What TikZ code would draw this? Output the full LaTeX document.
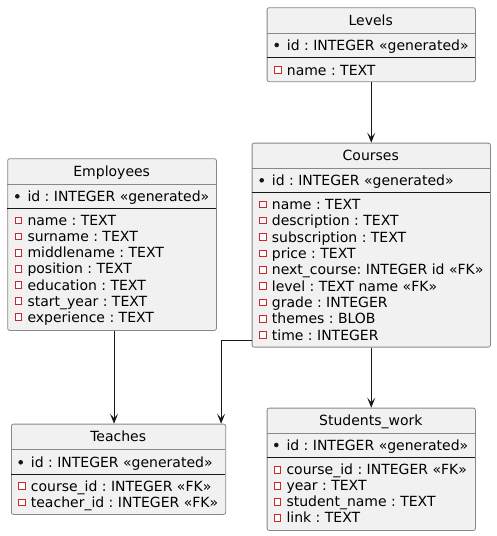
\documentclass[tikz,border=0pt]{standalone}
\usepackage{fontspec}
\setmainfont{DejaVu Sans}
\usetikzlibrary{arrows.meta}
\frenchspacing
\definecolor{entityfill}{HTML}{F1F1F1}
\definecolor{entityline}{HTML}{888888}
\definecolor{fkred}{HTML}{C82930}
\definecolor{linkline}{HTML}{181818}
\def\keyrow[#1](#2,#3)#4{\fill[linkline] (#2-10,#3) circle (2.3); \node[field] (#1) at (#2,#3) {#4};}
\def\attrrow[#1](#2,#3)#4{\draw[attrmark] (#2-12,#3-3.2) rectangle ++(6.4,6.4); \node[field] (#1) at (#2,#3) {#4};}

\begin{document}
\begin{tikzpicture}[x=1pt, y=-1pt,
	entity/.style={draw=entityline, fill=entityfill, line width=0.8pt, rounded corners=2pt, inner sep=0pt, anchor=north west},
	field/.style={anchor=west, inner sep=0pt, text height=10.2pt, text depth=0pt, font=\fontsize{14}{16}\selectfont},
	title/.style={inner sep=0pt, text height=10.2pt, text depth=0pt, font=\fontsize{14}{16}\selectfont},
	titlesep/.style={draw=entityline, line width=0.8pt},
	keysep/.style={draw=linkline, line width=0.9pt},
	attrmark/.style={draw=fkred, fill=white, line width=0.8pt},
	link/.style={draw=linkline, line width=0.9pt, -{Stealth[length=10pt, width=8pt, inset=4.5pt]}}]
	%%%%% START %%%%%
	
	\useasboundingbox (0,0) rectangle (496,536);
	
	% Levels
	\node[entity, minimum width=208.3pt, minimum height=74pt] (levels) at (266.7,7.3) {};
	\node[title] (lv-title) at (370.8,20) {Levels};
	\draw[titlesep] (266.7,33) -- (475,33);
	\keyrow[lv-id](286.7,45){id : INTEGER «generated»}
	\draw[keysep] (266.7,57) -- (475,57);
	\attrrow[lv-name](286.7,70){name : TEXT}
	
	% Courses
	\node[entity, minimum width=238.3pt, minimum height=204pt] (courses) at (251.7,142.7) {};
	\node[title] (cs-title) at (370.8,155.5) {Courses};
	\draw[titlesep] (251.7,168.3) -- (490,168.3);
	\keyrow[cs-id](271.7,180.3){id : INTEGER «generated»}
	\draw[keysep] (251.7,192.3) -- (490,192.3);
	\attrrow[cs-name](271.7,204.3){name : TEXT}
	\attrrow[cs-description](271.7,220.6){description : TEXT}
	\attrrow[cs-subscription](271.7,237){subscription : TEXT}
	\attrrow[cs-price](271.7,253.3){price : TEXT}
	\attrrow[cs-next](271.7,269.7){next\_course: INTEGER id «FK»}
	\attrrow[cs-level](271.7,286){level : TEXT name «FK»}
	\attrrow[cs-grade](271.7,302.4){grade : INTEGER}
	\attrrow[cs-themes](271.7,318.7){themes : BLOB}
	\attrrow[cs-time](271.7,335){time : INTEGER}
	
	% Employees
	\node[entity, minimum width=208.7pt, minimum height=171.7pt] (employees) at (7.3,158.3) {};
	\node[title] (em-title) at (111.7,171) {Employees};
	\draw[titlesep] (7.3,184.3) -- (216,184.3);
	\keyrow[em-id](27.3,196.3){id : INTEGER «generated»}
	\draw[keysep] (7.3,208.3) -- (216,208.3);
	\attrrow[em-name](27.3,220.5){name : TEXT}
	\attrrow[em-surname](27.3,236.6){surname : TEXT}
	\attrrow[em-middlename](27.3,252.7){middlename : TEXT}
	\attrrow[em-position](27.3,268.8){position : TEXT}
	\attrrow[em-education](27.3,284.9){education : TEXT}
	\attrrow[em-start](27.3,301){start\_year : TEXT}
	\attrrow[em-experience](27.3,317){experience : TEXT}
	
	% Teaches
	\node[entity, minimum width=214.3pt, minimum height=90.3pt] (teaches) at (11,423.7) {};
	\node[title] (tc-title) at (118.2,436) {Teaches};
	\draw[titlesep] (11,449.3) -- (225.3,449.3);
	\keyrow[tc-id](30.7,462.3){id : INTEGER «generated»}
	\draw[keysep] (11,474.3) -- (225.3,474.3);
	\attrrow[tc-course](30.7,486){course\_id : INTEGER «FK»}
	\attrrow[tc-teacher](30.7,502.3){teacher\_id : INTEGER «FK»}
	
	% Students_work
	\node[entity, minimum width=208.3pt, minimum height=122.3pt] (students) at (266.7,407.7) {};
	\node[title] (sw-title) at (370.8,420) {Students\_work};
	\draw[titlesep] (266.7,433.3) -- (475,433.3);
	\keyrow[sw-id](286.3,445){id : INTEGER «generated»}
	\draw[keysep] (266.7,457) -- (475,457);
	\attrrow[sw-course](286.3,469.7){course\_id : INTEGER «FK»}
	\attrrow[sw-year](286.3,485.7){year : TEXT}
	\attrrow[sw-student](286.3,501.7){student\_name : TEXT}
	\attrrow[sw-link](286.3,517.7){link : TEXT}
	
	% links
	\draw[link] (levels.south) -- (courses.north);
	\draw[link] (courses.south) -- (courses.south |- students.north);
	\draw[link] ([xshift=2pt]employees.south) -- ([xshift=2pt]employees.south |- teaches.north);
	\draw[link] ([yshift=7.4pt]courses.south west) -| ([xshift=-5pt]teaches.north east);
	
	%%%%% END %%%%%
\end{tikzpicture}
\end{document}
